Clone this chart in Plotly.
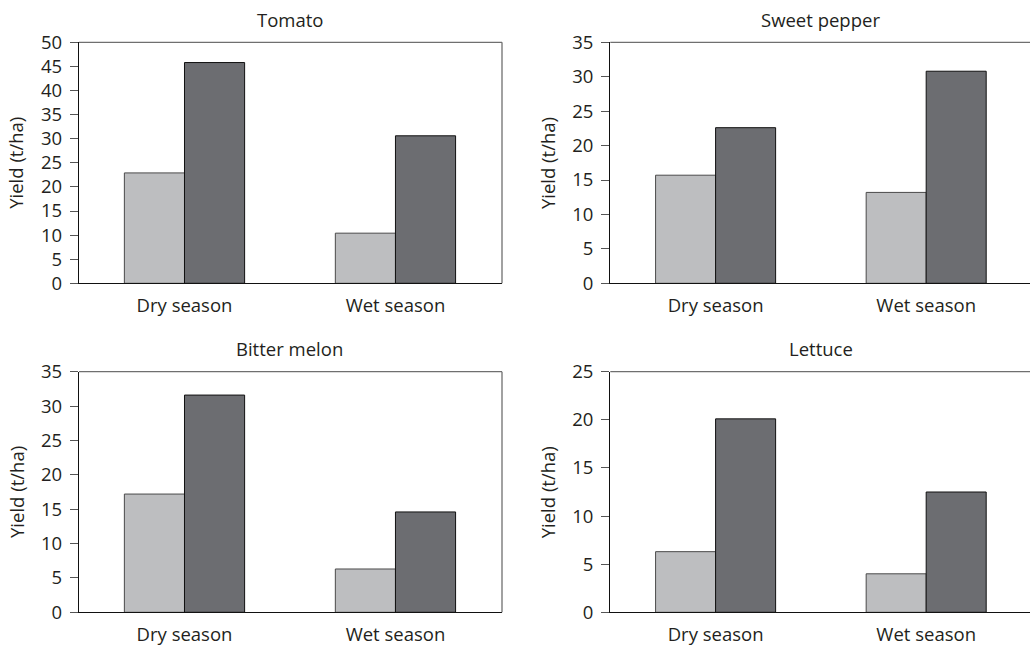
import plotly.graph_objects as go

seasons = ["Dry season", "Wet season"]
crops = ["Tomato", "Sweet pepper", "Bitter melon", "Lettuce"]
light_vals = {
    "Tomato": [22.9, 10.4],
    "Sweet pepper": [15.7, 13.2],
    "Bitter melon": [17.2, 6.3],
    "Lettuce": [6.3, 4.0],
}
dark_vals = {
    "Tomato": [45.8, 30.6],
    "Sweet pepper": [22.6, 30.8],
    "Bitter melon": [31.6, 14.6],
    "Lettuce": [20.1, 12.5],
}
y_max = {"Tomato": 50, "Sweet pepper": 35, "Bitter melon": 35, "Lettuce": 25}
y_title = "Yield (t/ha)"

W, H = 1030, 645
FONT = "Open Sans"
FS = 18.5
LIGHT = "#bdbec0"
DARK = "#6c6d71"

# pixel geometry of the four panels: (x0, x1, ytop, ybottom, xrange_end, right_border)
panels = [
    (79, 502, 42.3, 283.3, 1.505, True),
    (610.3, 1030, 42.3, 283.3, 1.493, False),
    (79, 502, 371.7, 612.3, 1.505, True),
    (610.3, 1030, 371.7, 612.3, 1.493, False),
]

fig = go.Figure()
annotations = []
shapes = []
for i, crop in enumerate(crops):
    x0, x1, yt, yb, xend, rb = panels[i]
    n = "" if i == 0 else str(i + 1)
    xa, ya = "x" + n, "y" + n
    fig.add_trace(go.Bar(x=seasons, y=light_vals[crop], xaxis=xa, yaxis=ya,
                         marker=dict(color=LIGHT, line=dict(color="#4a4a4a", width=1)),
                         showlegend=False))
    fig.add_trace(go.Bar(x=seasons, y=dark_vals[crop], xaxis=xa, yaxis=ya,
                         marker=dict(color=DARK, line=dict(color="#111111", width=1)),
                         showlegend=False))
    dx = [x0 / W, x1 / W]
    dy = [1 - yb / H, 1 - yt / H]
    fig.layout["xaxis" + n] = dict(
        domain=dx, anchor=ya, range=[-0.5, xend], showline=True, linecolor="#111111",
        linewidth=1.3, ticks="", showgrid=False, zeroline=False, automargin=False,
        tickfont=dict(family=FONT, size=FS, color="#231f20"), ticklabelstandoff=5,
    )
    fig.layout["yaxis" + n] = dict(
        domain=dy, anchor=xa, range=[0, y_max[crop]], dtick=5, showline=True,
        linecolor="#111111", linewidth=1.3, ticks="outside", ticklen=8, tickwidth=1,
        tickcolor="#555555", showgrid=False, zeroline=False, automargin=False,
        tickfont=dict(family=FONT, size=FS, color="#231f20"), ticklabelstandoff=4,
    )
    # gray top (and right) border
    shapes.append(dict(type="line", xref="paper", yref="paper", x0=dx[0], x1=dx[1],
                       y0=dy[1], y1=dy[1], line=dict(color="#6f6f6f", width=1.3)))
    if rb:
        shapes.append(dict(type="line", xref="paper", yref="paper", x0=dx[1], x1=dx[1],
                           y0=dy[0], y1=dy[1], line=dict(color="#6f6f6f", width=1.3)))
    annotations.append(dict(text=crop, xref="paper", yref="paper",
                            x=(x0 + (x0 + (x1 - x0) * 2.0 / (xend + 0.5))) / 2 / W,
                            y=1 - (yt - 23) / H, xanchor="center", yanchor="middle",
                            showarrow=False, font=dict(family=FONT, size=FS, color="#231f20")))
    annotations.append(dict(text=y_title, xref="paper", yref="paper", textangle=-90,
                            x=(x0 - 63) / W, y=1 - (yt + yb) / 2 / H,
                            xanchor="center", yanchor="middle", showarrow=False,
                            font=dict(family=FONT, size=FS, color="#231f20")))

fig.update_layout(
    width=W, height=H, margin=dict(l=0, r=0, t=0, b=0, autoexpand=False),
    paper_bgcolor="white", plot_bgcolor="white",
    barmode="group", bargap=0.43, bargroupgap=0, hovermode=False,
    annotations=annotations, shapes=shapes, showlegend=False,
)
fig.write_html("out.html", config={"displayModeBar": False},
               post_script="document.body.style.margin='0';document.body.style.overflow='hidden';")
